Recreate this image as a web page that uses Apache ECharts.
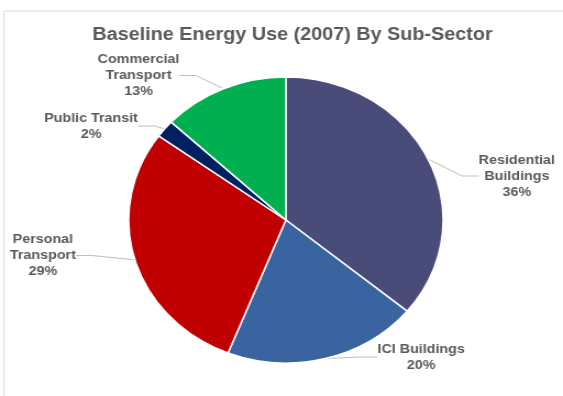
<!DOCTYPE html>
<html>
<head>
<meta charset="utf-8">
<script src="https://cdn.jsdelivr.net/npm/echarts@6/dist/echarts.min.js"></script>
<style>
  html, body { margin: 0; padding: 0; background: #fff; overflow: hidden; }
  #wrap { width: 563px; height: 396px; overflow: hidden; }
  /* the chart is laid out narrower and widened, giving the oval pie */
  #chart { width: 512px; height: 396px; transform: scaleX(1.0996); transform-origin: 0 0; }
</style>
</head>
<body>
<div id="wrap"><div id="chart"></div></div>
<script>
const categories = ['Residential\nBuildings', 'ICI Buildings', 'Personal\nTransport', 'Public Transit', 'Commercial\nTransport'];
const shares = [36, 20, 29, 2, 13];
const colors = ['#494b79', '#3a64a0', '#c00000', '#002060', '#00b050'];
// label anchor spots (centre of each text block)
const labelSpots = [[470, 176], [383, 357], [39, 255.5], [82.8, 126], [126, 75.5]];

const chart = echarts.init(document.getElementById('chart'), null, { renderer: 'canvas' });

chart.setOption({
  animation: false,
  backgroundColor: '#ffffff',
  title: {
    text: 'Baseline Energy Use (2007) By Sub-Sector',
    left: 261, top: 21,
    textAlign: 'center',
    textStyle: { fontFamily: 'Liberation Sans, Arial, sans-serif', fontSize: 18, fontWeight: 'bold', color: '#595959' }
  },
  graphic: [{
    type: 'rect',
    shape: { x: 3.6, y: 11, width: 600, height: 500 },
    style: { fill: 'none', stroke: '#d9d9d9', lineWidth: 1 },
    silent: true
  }],
  series: [{
    type: 'pie',
    center: [260, 220],
    radius: 143,
    startAngle: 90,
    clockwise: true,
    avoidLabelOverlap: false,
    itemStyle: { borderColor: '#ffffff', borderWidth: 1.5 },
    label: {
      show: true,
      formatter: p => p.name + '\n' + p.value + '%',
      fontFamily: 'Liberation Sans, Arial, sans-serif',
      fontSize: 13,
      fontWeight: 'bold',
      color: '#595959',
      lineHeight: 16,
      align: 'center'
    },
    labelLine: { show: true, length: 15, length2: 15, lineStyle: { color: '#bfbfbf', width: 1 } },
    labelLayout: p => ({
      x: labelSpots[p.dataIndex][0],
      y: labelSpots[p.dataIndex][1],
      align: 'center',
      verticalAlign: 'middle'
    }),
    data: categories.map((c, i) => ({ name: c, value: shares[i], itemStyle: { color: colors[i] } }))
  }]
});
</script>
</body>
</html>
